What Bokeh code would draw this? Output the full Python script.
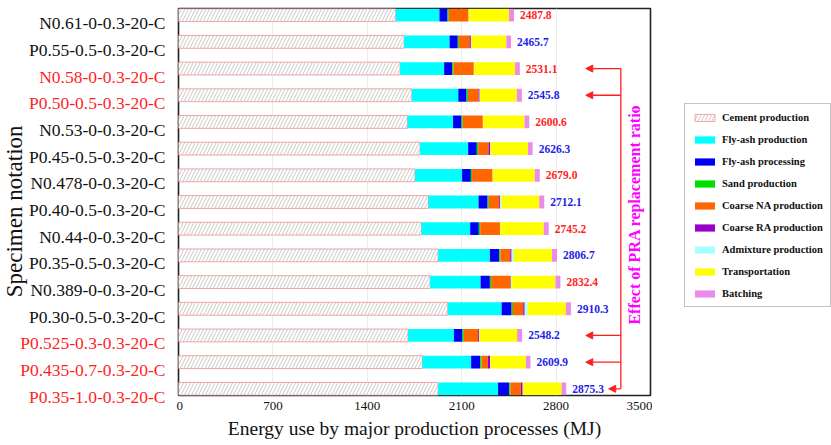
import numpy as np
from bokeh.plotting import figure
from bokeh.layouts import row
from bokeh.models import (ColumnDataSource, Range1d, FixedTicker, LabelSet, Label,
                          Legend, LegendItem, Arrow, NormalHead)
from bokeh.core.properties import value
from bokeh.embed import file_html
from bokeh.resources import INLINE

specimens = ["N0.61-0-0.3-20-C", "P0.55-0.5-0.3-20-C", "N0.58-0-0.3-20-C",
             "P0.50-0.5-0.3-20-C", "N0.53-0-0.3-20-C", "P0.45-0.5-0.3-20-C",
             "N0.478-0-0.3-20-C", "P0.40-0.5-0.3-20-C", "N0.44-0-0.3-20-C",
             "P0.35-0.5-0.3-20-C", "N0.389-0-0.3-20-C", "P0.30-0.5-0.3-20-C",
             "P0.525-0.3-0.3-20-C", "P0.435-0.7-0.3-20-C", "P0.35-1.0-0.3-20-C"]
label_red = [False, False, True, True, False, False, False, False, False,
             False, False, False, True, True, True]

cement = [1611, 1673, 1643, 1730, 1698, 1791, 1754, 1854, 1802, 1925, 1866, 1997, 1702, 1809, 1925]
flyash_prod = [324, 337, 327, 345, 338, 357, 349, 371, 361, 384, 374, 399, 340, 361, 445]
flyash_proc = [60, 61, 59, 61, 63, 64, 65, 67, 64, 69, 69, 74, 64, 67, 82]
sand = [9, 8, 10, 10, 9, 10, 9, 9, 10, 10, 9, 10, 10, 10, 10]
coarse_na = [147, 79, 151, 79, 149, 77, 152, 77, 148, 72, 147, 76, 106, 47, 77]
coarse_ra = [0, 10, 0, 8, 0, 12, 0, 7, 0, 10, 0, 11, 7, 17, 13]
admixture = [3, 3, 3, 3, 3, 3, 3, 10, 3, 15, 9, 22, 3, 3, 3]
transport = [297, 260, 303, 273, 306, 277, 310, 280, 320, 285, 321, 284, 279, 262, 286]
batching = [37, 35, 35, 37, 35, 35, 37, 37, 37, 37, 37, 37, 37, 34, 34]

totals = [2487.8, 2465.7, 2531.1, 2545.8, 2600.6, 2626.3, 2679.0, 2712.1, 2745.2,
          2806.7, 2832.4, 2910.3, 2548.2, 2609.9, 2875.3]
total_labels = ["2487.8", "2465.7", "2531.1", "2545.8", "2600.6", "2626.3", "2679.0",
                "2712.1", "2745.2", "2806.7", "2832.4", "2910.3", "2548.2", "2609.9", "2875.3"]

series_names = ["Cement production", "Fly-ash production", "Fly-ash processing",
                "Sand production", "Coarse NA production", "Coarse RA production",
                "Admixture production", "Transportation", "Batching"]
series_vals = [cement, flyash_prod, flyash_proc, sand, coarse_na, coarse_ra,
               admixture, transport, batching]
series_colors = ["#ffffff", "#00ffff", "#0000f5", "#00e000", "#ff6600", "#9900cc",
                 "#a8ffff", "#ffff00", "#e98be9"]

x_ticks = [0, 700, 1400, 2100, 2800, 3500]

SERIF = "Liberation Serif"
RED = "#ff1f1f"
BLUE = "#1f1fe6"

# layout constants (pixels)
TOP = 8
FRAME_H = 387
LEFT_W = 176
Y0, Y1 = -0.25, 14.25
PX_PER_ROW = FRAME_H / (Y1 - Y0)
LEFT_H = 444

rows = np.arange(len(specimens))
y_range = Range1d(Y1, Y0)

# ---------------- left panel: category labels ----------------
l_top = Y0 - TOP / PX_PER_ROW
l_bot = l_top + LEFT_H / PX_PER_ROW
pl = figure(frame_width=LEFT_W, frame_height=LEFT_H, output_backend="svg",
            toolbar_location=None, x_range=Range1d(0, 1), y_range=Range1d(l_bot, l_top),
            x_axis_location=None, y_axis_location=None, min_border=0)
pl.outline_line_color = None
pl.grid.grid_line_color = None
pl.text(x=[1] * len(specimens), y=rows, text=specimens, x_offset=-11,
        text_color=[RED if f else "#111111" for f in label_red],
        text_font=value(SERIF), text_font_size="17.5px",
        text_align="right", text_baseline="middle")
pl.text(x=[0], y=[7.05], text=["Specimen notation"], x_offset=14, angle=np.pi / 2,
        text_font=value(SERIF), text_font_size="23px", text_color="#111111",
        text_align="center", text_baseline="middle")

# ---------------- main panel ----------------
p = figure(frame_width=472, frame_height=FRAME_H, output_backend="svg",
           toolbar_location=None, x_range=Range1d(0, 3500), y_range=y_range,
           y_axis_location=None, min_border=0, min_border_left=2,
           min_border_right=2, min_border_top=TOP)
p.outline_line_color = "#222222"
p.outline_line_width = 1.6

vals = np.array(series_vals, dtype=float)
cum = np.cumsum(vals, axis=0)
for i, name in enumerate(series_names):
    left = cum[i] - vals[i]
    right = cum[i]
    src = ColumnDataSource(dict(y=rows, left=left, right=right))
    if i == 0:
        p.hbar(y="y", left="left", right="right", height=0.48, source=src,
               fill_color="white", line_color="#f5a3a3", line_width=1,
               hatch_pattern="/", hatch_color="#b0b0b0", hatch_scale=7,
               hatch_weight=0.7)
    else:
        p.hbar(y="y", left="left", right="right", height=0.48, source=src,
               fill_color=series_colors[i], line_color=None)

lab_src = ColumnDataSource(dict(
    x=totals, y=rows, text=total_labels,
    color=[RED if s.startswith("N") else BLUE for s in specimens]))
p.add_layout(LabelSet(x="x", y="y", text="text", source=lab_src, x_offset=6,
                      text_color="color", text_font=SERIF, text_font_size="11.5px",
                      text_font_style="bold", text_baseline="middle"))

arrow_rows = [2, 3, 12, 13, 14]
arrow_tips = [3020, 3020, 3020, 3020, 3190]
bracket_x = 3280
p.add_layout(Arrow(end=None, x_start=bracket_x, y_start=arrow_rows[0],
                   x_end=bracket_x, y_end=arrow_rows[-1], line_color=RED, line_width=1.3))
for rr, tip in zip(arrow_rows, arrow_tips):
    p.add_layout(Arrow(end=NormalHead(size=7, fill_color=RED, line_color=RED),
                       x_start=bracket_x, y_start=rr, x_end=tip, y_end=rr,
                       line_color=RED, line_width=1.3))
p.add_layout(Label(x=3378, y=7.47, text="Effect of PRA replacement ratio", angle=np.pi / 2,
                   text_font=SERIF, text_font_size="16px", text_font_style="bold",
                   text_color="#ff00ff", text_align="center", text_baseline="middle"))

p.xaxis.ticker = FixedTicker(ticks=x_ticks)
p.xaxis.major_label_text_font = SERIF
p.xaxis.major_label_text_font_size = "13px"
p.xaxis.major_label_text_color = "#111111"
p.xaxis.major_label_standoff = 6
p.xaxis.major_tick_line_color = None
p.xaxis.major_tick_out = 0
p.xaxis.major_tick_in = 0
p.xaxis.minor_tick_line_color = None
p.xaxis.minor_tick_out = 0
p.xaxis.axis_line_color = None
p.xaxis.axis_label = "Energy use by major production processes (MJ)"
p.xaxis.axis_label_text_font = SERIF
p.xaxis.axis_label_text_font_size = "19.5px"
p.xaxis.axis_label_text_font_style = "normal"
p.xaxis.axis_label_text_color = "#111111"
p.xaxis.axis_label_standoff = 5

p.xgrid.ticker = FixedTicker(ticks=x_ticks[1:-1])
p.xgrid.grid_line_color = "#ececec"
p.ygrid.grid_line_color = None

# ---------------- right panel: legend ----------------
pr = figure(frame_width=179, frame_height=FRAME_H, output_backend="svg",
            toolbar_location=None, x_range=Range1d(0, 1), y_range=Range1d(0, 1),
            x_axis_location=None, y_axis_location=None, min_border=0, min_border_top=TOP)
pr.outline_line_color = None
pr.grid.grid_line_color = None
leg_renderers = []
for i, name in enumerate(series_names):
    hidden = ColumnDataSource(dict(y=[-10], left=[0], right=[1]))
    if i == 0:
        r = pr.hbar(y="y", left="left", right="right", height=0.5, source=hidden,
                    fill_color="white", line_color="#f5a3a3", line_width=1,
                    hatch_pattern="/", hatch_color="#b0b0b0", hatch_scale=7,
                    hatch_weight=0.7)
    else:
        r = pr.hbar(y="y", left="left", right="right", height=0.5, source=hidden,
                    fill_color=series_colors[i], line_color=None)
    leg_renderers.append(r)

items = [LegendItem(label=n, renderers=[r]) for n, r in zip(series_names, leg_renderers)]
legend = Legend(items=items, location=(32, 88), glyph_width=25, glyph_height=9,
                label_height=12, spacing=10, padding=7, margin=0, label_standoff=5,
                label_text_font=SERIF, label_text_font_size="10.5px",
                label_text_font_style="bold", label_text_color="#111111",
                border_line_color="#888888", border_line_width=1,
                background_fill_color="white", background_fill_alpha=1)
pr.add_layout(legend)

layout = row(pl, p, pr, spacing=0)
open("out.html", "w").write(file_html(layout, INLINE))
